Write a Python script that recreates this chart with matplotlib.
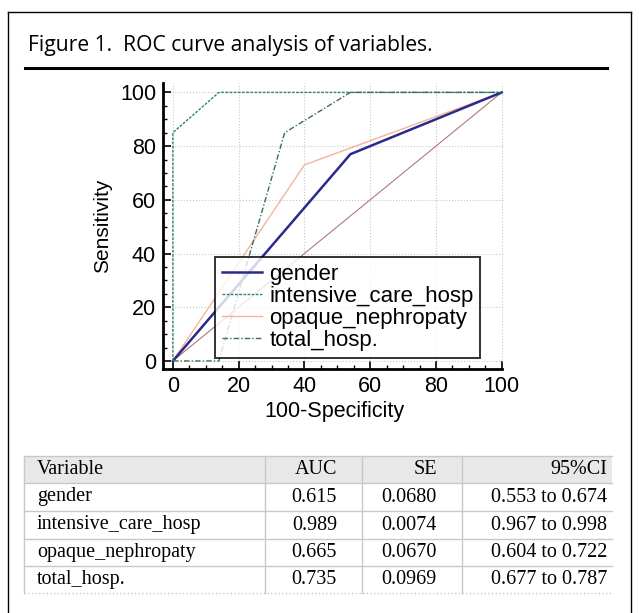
"""ROC curve figure with summary table."""
import matplotlib
matplotlib.use("Agg")
import matplotlib.pyplot as plt
from matplotlib.lines import Line2D
from matplotlib.patches import Rectangle
from matplotlib.ticker import MultipleLocator

# ROC curve points (100-Specificity, Sensitivity)
gender_x = [0, 54, 100]
gender_y = [0, 77, 100]
icu_x = [0, 0, 14, 100]
icu_y = [0, 85, 100, 100]
opaque_x = [0, 40, 100]
opaque_y = [0, 73, 100]
total_x = [0, 14, 34, 54, 100]
total_y = [0, 0, 85, 100, 100]
ref_x = [0, 100]
ref_y = [0, 100]

# Table contents
col_names = ["Variable", "AUC", "SE", "95%CI"]
variables = ["gender", "intensive_care_hosp", "opaque_nephropaty", "total_hosp."]
auc = ["0.615", "0.989", "0.665", "0.735"]
se = ["0.0680", "0.0074", "0.0670", "0.0969"]
ci = ["0.553 to 0.674", "0.967 to 0.998", "0.604 to 0.722", "0.677 to 0.787"]

W, H = 639, 613
fig = plt.figure(figsize=(W / 100, H / 100), dpi=100)


def fx(px):
    return px / W


def fy(py):
    return 1 - py / H


# outer frame and title
fig.add_artist(Line2D([fx(8), fx(8)], [fy(12), 0], color="black", lw=1.0))
fig.add_artist(Line2D([fx(8), fx(631)], [fy(12), fy(12)], color="black", lw=1.0))
fig.add_artist(Line2D([fx(631), fx(631)], [fy(12), 0], color="black", lw=1.0))
fig.text(fx(28), fy(45), "Figure 1.  ROC curve analysis of variables.",
         family="Open Sans", fontsize=15.2, va="center", ha="left")
fig.add_artist(Line2D([fx(25), fx(607)], [fy(68), fy(68)], color="black", lw=2.2))

# ROC plot
ax = fig.add_axes([fx(163), fy(369), fx(505) - fx(163), fy(83) - fy(369)])
ax.plot(ref_x, ref_y, color="#b07a7a", lw=0.8)
ax.plot(opaque_x, opaque_y, color="#f4b49a", lw=1.0, label="opaque_nephropaty")
ax.plot(gender_x, gender_y, color="#2a2a8c", lw=1.8, label="gender")
ax.plot(icu_x, icu_y, color="#2e8b57", lw=1.0, ls=(0, (2, 1)), label="intensive_care_hosp")
ax.plot(total_x, total_y, color="#3c6e5a", lw=1.0, ls=(0, (4, 1.5, 1, 1.5)), label="total_hosp.")

ax.set_xlim(-3, 101)
ax.set_ylim(-3, 103.5)
ax.xaxis.set_major_locator(MultipleLocator(20))
ax.yaxis.set_major_locator(MultipleLocator(20))
ax.xaxis.set_minor_locator(MultipleLocator(5))
ax.yaxis.set_minor_locator(MultipleLocator(5))
for s in ["top", "right"]:
    ax.spines[s].set_visible(False)
for s in ["left", "bottom"]:
    ax.spines[s].set_linewidth(2.0)
ax.spines["bottom"].set_bounds(-3, 100)
ax.tick_params(which="major", direction="in", length=6, width=1.2, labelsize=15.5, pad=5)
ax.tick_params(which="minor", direction="in", length=3, width=1.0)
ax.grid(True, which="major", color="#c8c8c8", ls=":", lw=0.8)
for lab in ax.get_xticklabels() + ax.get_yticklabels():
    lab.set_family("Liberation Sans")
ax.set_xlabel("100-Specificity", family="Liberation Sans", fontsize=15.5, labelpad=3)
ax.set_ylabel("Sensitivity", family="Liberation Sans", fontsize=15, labelpad=6)

h, l = ax.get_legend_handles_labels()
order = [1, 2, 0, 3]
leg = ax.legend([h[i] for i in order], [l[i] for i in order],
                loc="lower left", bbox_to_anchor=(0.152, 0.04),
                prop={"family": "Liberation Sans", "size": 16},
                frameon=True, fancybox=False, edgecolor="black",
                handlelength=1.8, handletextpad=0.35, labelspacing=0.05,
                borderpad=0.3, borderaxespad=0)
leg.get_frame().set_linewidth(1.4)

# table
col_edges = [24, 265, 362, 462, 612]
row_edges = [456, 483, 511, 539, 566, 593]
grid_c = "#c8c8c8"
fig.add_artist(Rectangle((fx(24), fy(row_edges[1])), fx(612) - fx(24),
                         fy(row_edges[0]) - fy(row_edges[1]),
                         facecolor="#e8e8e8", edgecolor="none"))
for i, yy in enumerate(row_edges):
    ls = ":" if i == len(row_edges) - 1 else "-"
    fig.add_artist(Line2D([fx(24), fx(612)], [fy(yy), fy(yy)], color=grid_c, lw=1.0, ls=ls))
for xx in col_edges[:-1]:
    fig.add_artist(Line2D([fx(xx), fx(xx)], [fy(row_edges[0]), fy(row_edges[-1])],
                          color=grid_c, lw=1.0))

rows = [col_names] + [list(r) for r in zip(variables, auc, se, ci)]
right_pos = [None, 337, 437, 607]
tkw = dict(family="Liberation Serif", fontsize=14.5, va="center")
for r, row in enumerate(rows):
    yc = (row_edges[r] + row_edges[r + 1]) / 2
    fig.text(fx(37), fy(yc), row[0], ha="left", **tkw)
    for c in range(1, 4):
        fig.text(fx(right_pos[c]), fy(yc), row[c], ha="right", **tkw)

fig.savefig("out.png", dpi=100)
